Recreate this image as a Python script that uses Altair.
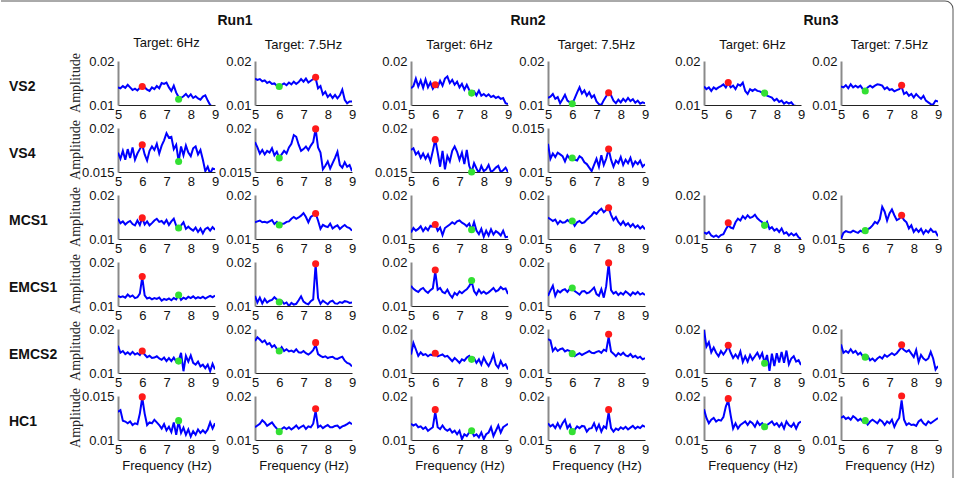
import math
import altair as alt
import pandas as pd

# Frequency axis (Hz)
FREQ = [5.0, 5.1, 5.2, 5.3, 5.4, 5.5, 5.6, 5.7, 5.8, 5.9,
        6.0, 6.1, 6.2, 6.3, 6.4, 6.5, 6.6, 6.7, 6.8, 6.9,
        7.0, 7.1, 7.2, 7.3, 7.4, 7.5, 7.6, 7.7, 7.8, 7.9,
        8.0, 8.1, 8.2, 8.3, 8.4, 8.5, 8.6, 8.7, 8.8, 8.9, 9.0]

# Amplitude spectra, in units of 1e-3
r1_vs2_6 = [14.0, 13.8, 14.3, 13.9, 14.6, 14.0, 13.4, 13.7, 13.3, 13.9, 14.2, 14.0, 13.5, 13.2, 14.0, 13.6, 14.3, 13.8, 15.0, 14.8, 15.1, 14.0, 13.2, 14.4, 12.8, 11.8, 11.6, 12.0, 12.5, 11.8, 12.4, 11.6, 12.0, 11.5, 11.2, 11.9, 12.2, 11.0, 10.0, 9.6, 9.5]
r1_vs2_75 = [16.0, 15.7, 15.9, 15.4, 15.6, 15.0, 15.3, 14.8, 14.9, 14.4, 14.2, 14.6, 14.9, 14.5, 15.1, 14.7, 15.3, 14.8, 15.2, 15.9, 15.3, 16.0, 15.1, 15.5, 15.9, 16.1, 13.8, 14.3, 12.4, 13.0, 11.8, 12.4, 11.6, 12.3, 11.5, 12.2, 13.5, 11.2, 10.4, 10.8, 10.8]
r2_vs2_6 = [13.8, 14.3, 16.0, 14.2, 15.6, 13.9, 15.8, 14.0, 15.1, 13.7, 14.6, 14.1, 15.5, 14.4, 16.0, 16.5, 15.0, 15.7, 14.6, 15.3, 14.0, 14.8, 13.5, 14.6, 13.4, 12.7, 13.1, 12.2, 13.3, 12.1, 12.5, 12.0, 12.4, 11.8, 12.1, 11.6, 11.9, 11.4, 11.6, 10.4, 10.2]
r2_vs2_75 = [11.6, 11.9, 12.5, 11.4, 11.8, 10.4, 11.3, 12.3, 11.0, 10.6, 10.3, 11.5, 12.8, 14.0, 12.6, 13.3, 12.1, 12.9, 11.7, 12.2, 10.8, 10.2, 10.0, 11.1, 12.0, 12.8, 12.2, 11.0, 10.4, 11.2, 10.6, 11.4, 10.8, 11.6, 10.9, 11.3, 10.5, 11.0, 10.3, 10.6, 10.4]
r3_vs2_6 = [14.2, 13.6, 14.0, 13.2, 14.0, 13.6, 14.0, 14.3, 14.7, 14.0, 15.0, 14.0, 14.4, 13.6, 14.7, 14.4, 15.1, 13.2, 12.5, 13.6, 13.2, 13.6, 13.2, 13.1, 12.8, 12.7, 12.1, 11.9, 11.7, 11.0, 11.4, 10.7, 11.0, 10.3, 10.7, 10.3, 10.6, 9.9, 9.8, 9.8, 9.7]
r3_vs2_75 = [14.2, 14.0, 14.5, 13.8, 14.7, 14.0, 14.4, 14.0, 14.4, 13.6, 13.3, 14.0, 14.4, 14.0, 14.4, 14.7, 14.6, 14.4, 13.6, 14.0, 13.4, 13.6, 13.1, 13.4, 13.6, 14.1, 12.5, 12.9, 12.1, 12.5, 11.7, 12.5, 11.9, 11.4, 12.1, 11.0, 10.6, 10.2, 10.1, 11.0, 10.8]

r1_vs4_6 = [17.2, 16.5, 17.4, 16.4, 17.6, 16.6, 17.8, 16.4, 17.1, 17.6, 18.1, 17.0, 16.3, 17.4, 17.9, 17.5, 18.2, 17.1, 18.0, 18.6, 19.4, 18.9, 19.0, 17.6, 18.1, 16.2, 17.9, 16.9, 18.0, 17.2, 16.8, 17.7, 17.9, 17.0, 17.5, 16.4, 15.1, 15.6, 14.8, 15.4, 15.3]
r1_vs4_75 = [18.4, 17.8, 17.1, 17.5, 17.0, 17.4, 17.2, 17.7, 16.9, 17.3, 16.6, 17.0, 17.4, 17.1, 17.8, 18.2, 19.2, 19.0, 18.1, 17.4, 17.6, 17.9, 17.5, 18.0, 18.4, 19.9, 17.8, 17.2, 15.3, 15.7, 16.2, 15.4, 16.0, 16.6, 17.3, 15.8, 15.5, 16.1, 15.6, 15.8, 15.1]
r2_vs4_6 = [17.5, 17.7, 17.0, 17.3, 16.6, 17.1, 16.5, 17.0, 16.2, 17.4, 18.7, 17.2, 15.6, 17.4, 15.3, 16.8, 16.2, 17.4, 17.9, 17.3, 16.4, 17.2, 15.9, 17.5, 15.7, 15.0, 16.0, 15.4, 14.9, 15.7, 15.1, 15.3, 15.8, 15.0, 15.2, 15.5, 15.7, 15.0, 15.2, 15.5, 15.0]
r2_vs4_75 = [13.2, 11.5, 12.1, 11.7, 12.2, 12.0, 11.8, 11.2, 11.9, 11.5, 11.6, 11.4, 11.3, 11.8, 11.6, 11.1, 10.9, 10.5, 10.1, 10.8, 11.5, 10.6, 11.9, 10.8, 11.5, 12.6, 11.4, 10.6, 11.3, 11.0, 11.7, 10.8, 11.4, 11.0, 11.6, 10.7, 11.2, 10.9, 11.3, 10.6, 10.9]

r1_mcs1_6 = [14.6, 13.6, 14.0, 13.3, 13.8, 14.1, 13.4, 13.1, 14.2, 13.2, 14.8, 13.3, 14.0, 13.1, 13.6, 14.2, 14.6, 13.9, 14.1, 13.5, 14.3, 13.2, 14.0, 14.6, 13.0, 12.5, 13.1, 13.8, 12.3, 12.8, 12.3, 11.9, 12.6, 11.6, 12.4, 11.3, 12.3, 12.6, 11.9, 12.7, 12.1]
r1_mcs1_75 = [13.8, 14.0, 14.2, 13.8, 13.9, 13.7, 14.0, 14.3, 13.4, 13.9, 13.2, 13.4, 13.5, 13.9, 14.0, 14.6, 15.0, 14.6, 14.9, 15.3, 15.9, 15.0, 13.8, 15.0, 15.4, 15.8, 14.2, 12.3, 13.2, 12.9, 12.7, 13.5, 12.4, 12.8, 13.1, 12.3, 12.8, 13.2, 12.7, 12.5, 11.9]
r2_mcs1_6 = [11.5, 12.5, 11.9, 12.3, 12.9, 11.8, 12.6, 12.0, 13.0, 12.8, 13.3, 11.9, 12.6, 10.9, 12.5, 12.9, 13.3, 13.8, 13.4, 14.0, 14.2, 13.7, 13.4, 12.9, 13.5, 12.1, 13.8, 11.9, 11.1, 12.3, 10.5, 11.9, 10.8, 12.2, 11.0, 11.8, 11.4, 10.8, 11.9, 10.4, 10.5]
r2_mcs1_75 = [14.9, 14.5, 14.1, 14.4, 13.4, 14.1, 13.7, 13.8, 14.3, 13.9, 14.1, 13.0, 13.8, 14.1, 13.6, 13.8, 14.4, 14.9, 15.4, 16.1, 15.7, 16.4, 16.9, 16.1, 16.6, 17.1, 15.5, 14.3, 15.0, 13.9, 13.2, 14.0, 13.1, 13.6, 12.8, 13.4, 12.6, 13.1, 12.4, 12.9, 12.2]
r3_mcs1_6 = [11.5, 11.2, 11.6, 10.8, 10.5, 10.8, 10.4, 10.9, 11.1, 12.2, 13.1, 12.6, 12.4, 13.8, 14.6, 14.2, 15.2, 14.6, 15.4, 14.8, 15.0, 15.5, 14.7, 14.2, 13.8, 13.1, 13.9, 12.3, 12.7, 11.9, 12.3, 11.6, 12.4, 11.2, 11.5, 10.8, 11.3, 10.8, 11.2, 10.4, 10.0]
r3_mcs1_75 = [10.0, 11.4, 11.8, 11.6, 11.5, 11.9, 11.6, 11.4, 11.9, 11.6, 11.7, 12.2, 12.5, 13.1, 13.9, 13.5, 14.5, 17.3, 16.2, 14.2, 15.8, 16.7, 15.4, 14.3, 14.6, 15.2, 14.3, 13.8, 12.4, 13.1, 11.6, 12.3, 11.6, 12.3, 11.2, 12.0, 11.5, 12.3, 11.6, 11.7, 10.6]

r1_emcs1_6 = [12.3, 12.0, 12.2, 11.9, 12.6, 12.1, 12.4, 11.8, 12.0, 12.8, 16.5, 12.4, 11.7, 11.9, 11.5, 11.8, 11.6, 11.9, 11.2, 11.6, 11.4, 11.7, 11.3, 11.8, 11.5, 12.5, 11.4, 11.9, 11.6, 12.1, 11.8, 12.2, 11.7, 12.0, 11.8, 12.1, 11.7, 12.0, 12.3, 12.0, 12.4]
r1_emcs1_75 = [12.3, 10.8, 11.9, 10.6, 11.6, 10.8, 11.2, 11.4, 12.0, 11.5, 10.9, 11.2, 10.5, 10.8, 10.0, 10.7, 10.3, 10.5, 11.3, 12.2, 11.0, 10.6, 10.4, 11.1, 11.5, 19.5, 11.8, 10.5, 11.2, 10.8, 10.4, 11.0, 11.2, 10.6, 10.5, 10.9, 10.7, 11.1, 11.0, 10.7, 10.8]
r2_emcs1_6 = [14.6, 13.9, 13.5, 13.2, 13.8, 14.1, 13.4, 13.0, 13.6, 14.0, 17.8, 13.7, 14.1, 13.2, 12.9, 13.7, 12.6, 11.9, 13.0, 12.5, 13.3, 12.9, 13.4, 13.8, 14.5, 15.6, 13.4, 12.6, 13.7, 12.9, 13.3, 12.8, 13.1, 13.6, 14.1, 13.3, 13.6, 14.3, 13.8, 14.0, 12.7]
r2_emcs1_75 = [12.3, 13.5, 14.6, 12.3, 13.5, 13.1, 13.6, 13.8, 13.2, 13.9, 14.1, 13.4, 13.0, 12.6, 13.3, 13.4, 12.9, 13.1, 13.6, 14.2, 12.7, 12.3, 13.8, 11.9, 14.5, 19.6, 13.6, 12.8, 13.2, 12.5, 13.0, 12.6, 13.3, 12.9, 12.4, 13.1, 12.7, 13.2, 12.6, 12.9, 12.5]

r1_emcs2_6 = [16.2, 14.6, 15.0, 14.3, 14.7, 14.2, 14.8, 14.2, 14.5, 14.1, 15.0, 14.2, 13.6, 13.9, 13.4, 13.5, 13.8, 13.3, 13.0, 13.5, 12.7, 13.4, 12.7, 13.5, 12.6, 12.7, 14.6, 10.4, 13.9, 12.6, 14.0, 12.3, 11.9, 12.6, 11.5, 11.9, 11.1, 11.9, 10.4, 12.1, 10.8]
r1_emcs2_75 = [17.3, 18.1, 17.6, 17.0, 17.4, 16.5, 16.8, 15.9, 16.3, 15.5, 15.0, 15.9, 15.0, 15.4, 14.9, 15.1, 14.8, 15.4, 14.7, 14.6, 15.0, 14.5, 14.2, 14.6, 15.2, 16.4, 14.3, 13.9, 13.6, 13.8, 13.4, 13.6, 13.7, 13.3, 13.2, 13.5, 13.7, 12.8, 12.3, 12.1, 11.5]
r2_emcs2_6 = [14.2, 16.8, 15.4, 13.9, 14.7, 14.1, 14.3, 13.8, 14.2, 14.0, 14.5, 13.8, 14.0, 14.2, 13.7, 13.9, 13.3, 12.7, 13.4, 12.9, 12.3, 13.1, 12.8, 13.5, 13.9, 13.1, 13.4, 12.3, 13.1, 11.9, 13.5, 12.4, 11.6, 12.7, 14.2, 11.9, 11.2, 12.7, 11.6, 12.0, 10.8]
r2_emcs2_75 = [17.7, 17.4, 15.0, 15.7, 15.0, 15.4, 15.6, 14.9, 15.2, 15.0, 14.4, 13.8, 14.2, 14.5, 14.1, 14.4, 14.7, 15.0, 14.6, 14.5, 14.8, 15.0, 14.6, 15.3, 15.0, 18.2, 14.9, 14.4, 13.8, 14.5, 14.1, 14.6, 14.0, 13.8, 14.3, 13.6, 13.9, 13.4, 13.7, 13.1, 13.4]
r3_emcs2_6 = [19.8, 16.0, 17.0, 14.7, 15.8, 14.6, 13.8, 15.0, 14.2, 15.0, 16.1, 14.6, 13.4, 14.2, 13.4, 14.9, 12.5, 13.8, 12.6, 14.1, 13.0, 13.8, 14.6, 13.4, 14.5, 12.3, 14.1, 10.5, 14.4, 11.6, 14.5, 12.4, 14.8, 12.3, 15.1, 12.0, 13.3, 13.8, 12.6, 12.9, 11.8]
r3_emcs2_75 = [16.5, 14.6, 15.0, 14.6, 15.4, 14.6, 15.0, 14.2, 14.6, 13.8, 13.7, 13.8, 12.9, 13.3, 12.7, 13.3, 13.7, 13.3, 14.1, 13.7, 14.1, 14.5, 14.1, 14.5, 15.2, 15.8, 15.2, 14.8, 15.2, 14.4, 13.6, 15.2, 12.5, 14.1, 13.3, 12.9, 13.3, 14.8, 13.3, 10.8, 11.6]

r1_hc1_6 = [13.2, 13.4, 12.2, 12.1, 11.9, 12.1, 11.7, 11.9, 11.8, 13.0, 14.8, 13.0, 11.7, 12.0, 11.9, 12.3, 12.0, 11.7, 11.3, 11.8, 11.1, 11.5, 10.9, 12.0, 10.6, 12.1, 10.8, 11.4, 10.6, 11.2, 10.4, 11.0, 10.6, 11.2, 10.8, 11.1, 10.8, 11.2, 12.0, 11.3, 11.9]
r1_hc1_75 = [12.9, 13.3, 13.7, 14.5, 14.0, 13.2, 13.6, 14.0, 13.2, 12.6, 11.9, 12.5, 12.9, 12.5, 12.9, 12.4, 12.8, 13.3, 12.6, 13.0, 13.3, 12.5, 13.1, 12.9, 13.7, 16.6, 12.9, 13.3, 12.7, 13.1, 13.4, 12.9, 12.9, 13.2, 13.3, 12.7, 13.1, 13.3, 13.6, 14.0, 13.6]
r2_hc1_6 = [13.7, 13.3, 13.6, 12.9, 13.1, 12.5, 12.9, 12.1, 12.5, 12.9, 16.4, 12.9, 12.5, 13.3, 12.5, 12.1, 12.5, 11.7, 12.1, 11.3, 12.1, 10.2, 11.3, 10.9, 11.7, 12.1, 10.9, 11.3, 10.6, 11.7, 10.2, 11.3, 11.7, 12.9, 10.9, 12.1, 13.3, 11.7, 12.9, 13.3, 13.7]
r2_hc1_75 = [13.8, 13.1, 13.5, 12.7, 13.8, 12.7, 13.8, 14.6, 12.7, 13.5, 11.9, 12.3, 13.1, 12.7, 13.2, 13.1, 11.9, 12.6, 12.7, 13.8, 12.3, 13.5, 11.9, 13.1, 12.7, 16.3, 12.7, 11.9, 12.6, 12.3, 12.9, 12.5, 13.0, 12.4, 12.8, 13.2, 12.6, 13.0, 12.7, 13.3, 13.0]
r3_hc1_6 = [17.0, 15.0, 13.8, 14.6, 15.0, 14.2, 14.6, 14.4, 15.2, 17.6, 19.0, 15.6, 12.6, 13.8, 12.6, 13.4, 13.8, 14.2, 13.4, 14.2, 13.8, 13.0, 14.2, 13.4, 13.8, 13.0, 13.4, 13.8, 14.2, 13.4, 13.8, 13.0, 13.8, 12.6, 14.2, 13.4, 13.0, 13.8, 12.6, 13.8, 14.2]
r3_hc1_75 = [15.0, 15.4, 14.8, 15.1, 14.6, 15.4, 15.0, 14.4, 14.8, 14.2, 14.4, 13.5, 14.2, 14.6, 14.2, 13.8, 14.6, 14.2, 13.4, 14.2, 13.8, 14.6, 13.0, 14.2, 15.0, 19.0, 14.6, 13.4, 13.8, 13.4, 13.5, 13.2, 14.2, 14.6, 13.8, 13.4, 14.2, 13.8, 14.2, 14.6, 15.0]

# Marker amplitudes (1e-3): target frequency (red) and the other stimulus (green)
RED_DOT = {
    "r1_vs2_6": 14.2, "r1_vs2_75": 16.3, "r2_vs2_6": 14.6, "r2_vs2_75": 12.8, "r3_vs2_6": 15.1, "r3_vs2_75": 14.5,
    "r1_vs4_6": 18.1, "r1_vs4_75": 19.9, "r2_vs4_6": 18.7, "r2_vs4_75": 12.6,
    "r1_mcs1_6": 14.8, "r1_mcs1_75": 15.8, "r2_mcs1_6": 13.3, "r2_mcs1_75": 17.1, "r3_mcs1_6": 13.7, "r3_mcs1_75": 15.4,
    "r1_emcs1_6": 16.7, "r1_emcs1_75": 19.6, "r2_emcs1_6": 18.2, "r2_emcs1_75": 19.8,
    "r1_emcs2_6": 15.0, "r1_emcs2_75": 16.9, "r2_emcs2_6": 14.5, "r2_emcs2_75": 18.8, "r3_emcs2_6": 16.3, "r3_emcs2_75": 16.4,
    "r1_hc1_6": 14.9, "r1_hc1_75": 17.1, "r2_hc1_6": 16.9, "r2_hc1_75": 16.9, "r3_hc1_6": 19.4, "r3_hc1_75": 20.0,
}
GREEN_DOT = {
    "r1_vs2_6": 11.3, "r1_vs2_75": 14.2, "r2_vs2_6": 12.7, "r2_vs2_75": 10.3, "r3_vs2_6": 12.7, "r3_vs2_75": 13.2,
    "r1_vs4_6": 16.2, "r1_vs4_75": 16.6, "r2_vs4_6": 15.0, "r2_vs4_75": 11.6,
    "r1_mcs1_6": 12.5, "r1_mcs1_75": 13.2, "r2_mcs1_6": 12.1, "r2_mcs1_75": 14.1, "r3_mcs1_6": 13.1, "r3_mcs1_75": 11.9,
    "r1_emcs1_6": 12.5, "r1_emcs1_75": 10.9, "r2_emcs1_6": 15.8, "r2_emcs1_75": 14.1,
    "r1_emcs2_6": 12.7, "r1_emcs2_75": 15.0, "r2_emcs2_6": 13.1, "r2_emcs2_75": 14.4, "r3_emcs2_6": 12.2, "r3_emcs2_75": 13.6,
    "r1_hc1_6": 12.2, "r1_hc1_75": 11.9, "r2_hc1_6": 12.1, "r2_hc1_75": 11.9, "r3_hc1_6": 13.0, "r3_hc1_75": 14.4,
}
# y-axis ranges (1e-3) that differ from the default 10-20
Y_RANGE = {"r1_vs4_6": (15, 20), "r1_vs4_75": (15, 20), "r2_vs4_6": (15, 20),
           "r2_vs4_75": (10, 15), "r1_hc1_6": (10, 15)}

SERIES = {
    "r1_vs2_6": r1_vs2_6, "r1_vs2_75": r1_vs2_75, "r2_vs2_6": r2_vs2_6, "r2_vs2_75": r2_vs2_75,
    "r3_vs2_6": r3_vs2_6, "r3_vs2_75": r3_vs2_75,
    "r1_vs4_6": r1_vs4_6, "r1_vs4_75": r1_vs4_75, "r2_vs4_6": r2_vs4_6, "r2_vs4_75": r2_vs4_75,
    "r1_mcs1_6": r1_mcs1_6, "r1_mcs1_75": r1_mcs1_75, "r2_mcs1_6": r2_mcs1_6, "r2_mcs1_75": r2_mcs1_75,
    "r3_mcs1_6": r3_mcs1_6, "r3_mcs1_75": r3_mcs1_75,
    "r1_emcs1_6": r1_emcs1_6, "r1_emcs1_75": r1_emcs1_75, "r2_emcs1_6": r2_emcs1_6, "r2_emcs1_75": r2_emcs1_75,
    "r1_emcs2_6": r1_emcs2_6, "r1_emcs2_75": r1_emcs2_75, "r2_emcs2_6": r2_emcs2_6, "r2_emcs2_75": r2_emcs2_75,
    "r3_emcs2_6": r3_emcs2_6, "r3_emcs2_75": r3_emcs2_75,
    "r1_hc1_6": r1_hc1_6, "r1_hc1_75": r1_hc1_75, "r2_hc1_6": r2_hc1_6, "r2_hc1_75": r2_hc1_75,
    "r3_hc1_6": r3_hc1_6, "r3_hc1_75": r3_hc1_75,
}

RUNS = ["Run1", "Run2", "Run3"]
CONDITIONS = ["VS2", "VS4", "MCS1", "EMCS1", "EMCS2", "HC1"]
TARGETS = [("6", 6.0, "Target: 6Hz"), ("75", 7.5, "Target: 7.5Hz")]
X_TICKS = [5, 6, 7, 8, 9]

W, H = 97, 44
GAP_IN, GAP_RUN, GAP_ROW = 40, 59, 23
SANS = "Liberation Sans"
# page position of the second-row, first-column panel, used to place the figure frame
ORIGIN_X, ORIGIN_Y = 117, 62 + H + GAP_ROW
FRAME_RIGHT, FRAME_TOP, FRAME_BOTTOM, FRAME_R = 952, 2, 479, 8
FRAME_COLOR = "#555555"


def blank(width, title=None):
    ch = alt.Chart(pd.DataFrame({"v": [0]})).mark_point(opacity=0).encode(
        x=alt.X("v:Q", axis=None), y=alt.Y("v:Q", axis=None)
    ).properties(width=width, height=H)
    if title:
        ch = ch.properties(title=alt.TitleParams(title, font=SANS, fontSize=14, fontWeight="bold",
                                                 anchor="middle", color="#111", offset=33))
    return ch


def frame_layers():
    one = pd.DataFrame({"k": [0]})
    top = alt.Chart(one).mark_rule(color=FRAME_COLOR, strokeWidth=1).encode(
        x=alt.value(-ORIGIN_X), x2=alt.value(FRAME_RIGHT - FRAME_R - ORIGIN_X),
        y=alt.value(FRAME_TOP - ORIGIN_Y))
    right = alt.Chart(one).mark_rule(color=FRAME_COLOR, strokeWidth=1).encode(
        x=alt.value(FRAME_RIGHT - ORIGIN_X),
        y=alt.value(FRAME_TOP + FRAME_R - ORIGIN_Y), y2=alt.value(FRAME_BOTTOM - ORIGIN_Y))
    corner = alt.Chart(one).mark_arc(
        color=FRAME_COLOR, theta=0, theta2=math.pi / 2,
        innerRadius=FRAME_R - 0.5, outerRadius=FRAME_R + 0.5
    ).encode(x=alt.value(FRAME_RIGHT - FRAME_R - ORIGIN_X), y=alt.value(FRAME_TOP + FRAME_R - ORIGIN_Y))
    return [top, right, corner]


def panel(run_i, row_i, col_i):
    suffix, target, ttl = TARGETS[col_i]
    key = f"r{run_i + 1}_{CONDITIONS[row_i].lower()}_{suffix}"
    if key not in SERIES:
        return blank(W)
    lo, hi = Y_RANGE.get(key, (10, 20))
    lo, hi = lo / 1000, hi / 1000
    df = pd.DataFrame({"f": FREQ, "a": [v / 1000 for v in SERIES[key]]})
    other = 7.5 if target == 6.0 else 6.0
    dots = pd.DataFrame({"f": [target, other],
                         "a": [RED_DOT[key] / 1000, GREEN_DOT[key] / 1000],
                         "kind": ["target", "other"]})
    last = row_i == len(CONDITIONS) - 1
    x = alt.X("f:Q", scale=alt.Scale(domain=[5, 9], nice=False, zero=False),
              axis=alt.Axis(values=X_TICKS, title="Frequency (Hz)" if last else None,
                            labelOverlap=False, labelFlush=False, labelBound=False,
                            labelSeparation=0, tickCount=5))
    y = alt.Y("a:Q", scale=alt.Scale(domain=[lo, hi], nice=False, zero=False),
              axis=alt.Axis(values=[lo, hi], format="~g", title=None, labelOverlap=False))
    line = alt.Chart(df).mark_line(color="#0000ff", strokeWidth=2, clip=True).encode(x=x, y=y)
    pts = alt.Chart(dots).mark_circle(size=50, opacity=1).encode(
        x="f:Q", y="a:Q",
        color=alt.Color("kind:N", scale=alt.Scale(domain=["target", "other"],
                                                   range=["#ff1a1a", "#33e033"]), legend=None))
    layers = [line, pts]
    if run_i == 0 and col_i == 0:
        lab = pd.DataFrame({"t": [CONDITIONS[row_i]]})
        layers.append(alt.Chart(lab).mark_text(
            font=SANS, fontSize=14, fontWeight="bold", align="left", baseline="middle", color="#111"
        ).encode(text="t:N", x=alt.value(-109), y=alt.value(H / 2 + 4)))
        amp = pd.DataFrame({"t": ["Amplitude"]})
        layers.append(alt.Chart(amp).mark_text(
            font="Liberation Serif", fontSize=14, angle=270, align="center", baseline="middle", color="#222"
        ).encode(text="t:N", x=alt.value(-42), y=alt.value(H / 2)))
        if row_i == 1:
            layers.extend(frame_layers())
    ch = alt.layer(*layers).properties(width=W, height=H)
    if row_i == 0:
        ch = ch.properties(title=alt.TitleParams(ttl, font=SANS, fontSize=13, fontWeight="normal",
                                                 color="#111", offset=3, frame="group"))
    return ch


cells = []
for row_i in range(len(CONDITIONS)):
    for run_i in range(3):
        cells.append(panel(run_i, row_i, 0))
        cells.append(blank(GAP_IN, RUNS[run_i] if row_i == 0 else None))
        cells.append(panel(run_i, row_i, 1))
        if run_i < 2:
            cells.append(blank(GAP_RUN))

chart = alt.concat(*cells, columns=11, spacing={"row": GAP_ROW, "column": 0}, bounds="flush").properties(
    padding={"left": 0, "top": 0, "right": 0, "bottom": 0}
).configure_view(stroke=None).configure_axis(
    grid=False, ticks=False, labelFont=SANS, labelFontSize=13, labelColor="#111",
    titleFont=SANS, titleFontSize=13, titleFontWeight="normal", titleColor="#111"
).configure_axisX(
    domainColor="#222", domainWidth=1, labelPadding=3, titlePadding=3
).configure_axisY(
    domainColor="#8a8a8a", domainWidth=2, labelPadding=4
)

chart.save("out.html", embed_options={"renderer": "svg", "actions": False})
